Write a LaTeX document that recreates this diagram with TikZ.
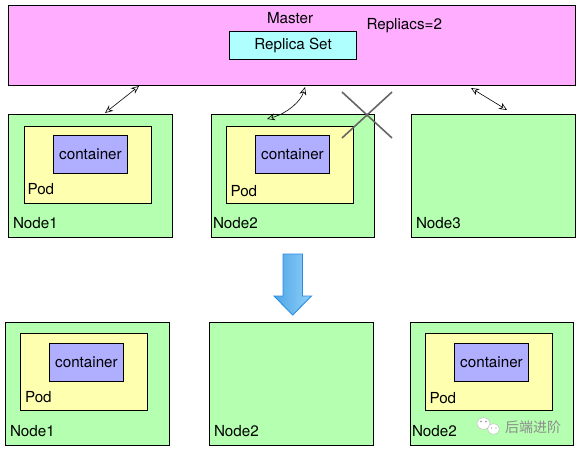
\documentclass[tikz,border=0pt]{standalone}
\usepackage{fontspec}
\setmainfont{TeX Gyre Heros}
\newfontfamily\cjkfont{Noto Sans CJK SC}
\definecolor{masterfill}{HTML}{FFAEFF}
\definecolor{replicafill}{HTML}{B0FFFF}
\definecolor{nodefill}{HTML}{B4FFB0}
\definecolor{podfill}{HTML}{FFFFB0}
\definecolor{contfill}{HTML}{B0AEFF}
\definecolor{arrowedge}{HTML}{2A8CE0}
\definecolor{arrowdark}{HTML}{4FA6E6}
\definecolor{arrowlight}{HTML}{8FD0FA}
\usetikzlibrary{arrows.meta}
\tikzset{
  rectbox/.style={draw=black,line width=0.9pt,inner sep=0pt,outer sep=0pt,anchor=north west,font=\fontsize{15.2}{16}\selectfont},
  masterbox/.style={rectbox,fill=masterfill,minimum width=567pt,minimum height=79.5pt},
  replicabox/.style={rectbox,fill=replicafill,minimum width=127pt,minimum height=28pt},
  nodebox/.style={rectbox,fill=nodefill,minimum width=164pt,minimum height=122.5pt},
  nodenarrow/.style={nodebox,minimum width=163pt},
  podbox/.style={rectbox,fill=podfill,minimum width=126.5pt,minimum height=76.5pt},
  contbox/.style={rectbox,fill=contfill,minimum width=74pt,minimum height=37.5pt},
  lbl/.style={inner sep=0pt,outer sep=0pt,anchor=base west,font=\fontsize{15.2}{16}\selectfont},
  dbl/.style={line width=0.6pt,black,{Stealth[open,length=8pt,width=7pt]}-{Stealth[open,length=8pt,width=7pt]}},
  cross/.style={line width=1.6pt,draw=black!60},
  bubble/.style={fill=white,draw=black!25,line width=0.5pt},
  eye/.style={fill=black!45},
}
\begin{document}
\begin{tikzpicture}[x=1pt,y=-1pt]
\useasboundingbox (0,0) rectangle (580,452);
% master
\node[masterbox] (master) at (8.5,5.5) {};
\node[lbl] (mastertxt) at (267,24) {Master};
\node[replicabox] (rs) at (229.5,31.5) {Replica Set};
\node[lbl] (rep) at (366.5,30) {Repliacs=2};
% top row
\node[nodebox] (t1) at (8.5,114.5) {};
\node[podbox] (tp1) at (24.5,126.5) {};
\node[contbox] (tc1) at (53.5,135.5) {container};
\node[lbl] (tpl1) at (27.5,194) {Pod};
\node[lbl] (tnl1) at (13,228) {Node1};
\node[nodenarrow] (t2) at (211.5,114.5) {};
\node[podbox] (tp2) at (226.5,126.5) {};
\node[contbox] (tc2) at (255.5,135.5) {container};
\node[lbl] (tpl2) at (230.5,196) {Pod};
\node[lbl] (tnl2) at (213,228) {Node2};
\node[nodebox] (t3) at (411.5,114.5) {};
\node[lbl] (tnl3) at (416,228) {Node3};
% bottom row
\node[nodebox] (b1) at (5.5,322.5) {};
\node[podbox] (bp1) at (20.5,333.5) {};
\node[contbox] (bc1) at (49.5,343.5) {container};
\node[lbl] (bpl1) at (25,402) {Pod};
\node[lbl] (bnl1) at (10,436) {Node1};
\node[nodebox] (b2) at (209.5,322.5) {};
\node[lbl] (bnl2) at (214,436) {Node2};
\node[nodenarrow] (b3) at (410.5,322.5) {};
\node[podbox] (bp3) at (425.5,333.5) {};
\node[contbox] (bc3) at (454.5,343.5) {container};
\node[lbl] (bpl3) at (429.5,403) {Pod};
\node[lbl] (bnl3) at (412,436) {Node2};
% connectors
\coordinate (a1s) at (139,86);
\coordinate (a1e) at (105,113);
\coordinate (a2s) at (305,87);
\coordinate (a2e) at (267,119);
\coordinate (a3s) at (471,88);
\coordinate (a3e) at (507,110);
\draw[dbl] (a1s) -- (a1e);
\draw[dbl] (a2s) .. controls (301,101) and (288,113) .. (a2e);
\draw[dbl] (a3s) -- (a3e);
% cross
\coordinate (x1) at (342,92);
\coordinate (x2) at (392,138);
\coordinate (x3) at (342,138);
\coordinate (x4) at (392,92);
\draw[cross] (x1) -- (x2);
\draw[cross] (x3) -- (x4);
% big arrow
\path[draw=arrowedge,line width=0.9pt,left color=arrowdark,right color=arrowlight]
  (283,254) -- (302.5,254) -- (302.5,296) -- (311.5,296) -- (292.7,315) -- (274,296) -- (283,296) -- cycle;
% watermark
\path[bubble] (483.5,423.5) ellipse (6.5pt and 5.8pt);
\path[bubble] (493.5,429) ellipse (6pt and 5.2pt);
\fill[eye] (481,421.5) circle (0.8pt) (486,421.5) circle (0.8pt) (491.5,428) circle (0.7pt) (496,428) circle (0.7pt);
\node[lbl,text=black!45,font=\cjkfont\fontsize{14}{15}\selectfont] (wm) at (505,432) {后端进阶};
\end{tikzpicture}
\end{document}
